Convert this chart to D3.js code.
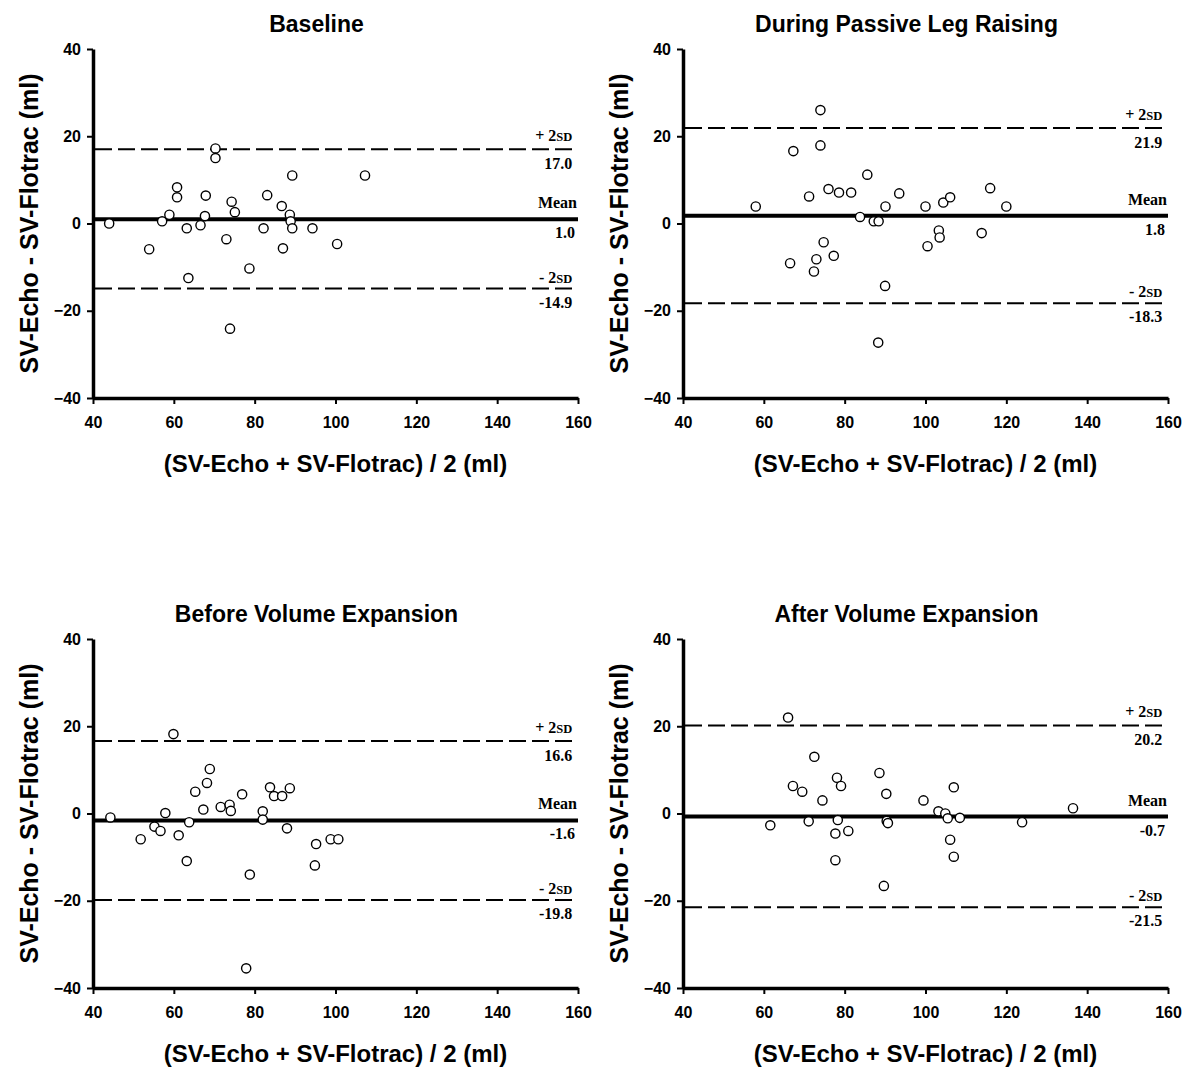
<!DOCTYPE html>
<html>
<head>
<meta charset="utf-8">
<script src="https://cdn.jsdelivr.net/npm/d3@7"></script>
<style>
  html, body { margin: 0; padding: 0; background: #fff; }
  svg { display: block; }
</style>
</head>
<body>
<svg id="chart" width="1200" height="1076"></svg>
<script>
// ---------- DATA ----------
const panelTitles = ["Baseline", "During Passive Leg Raising", "Before Volume Expansion", "After Volume Expansion"];
const xTicks = [40, 60, 80, 100, 120, 140, 160];
const yTicks = [-40, -20, 0, 20, 40];
const xTitle = "(SV-Echo + SV-Flotrac) / 2 (ml)";
const yTitle = "SV-Echo - SV-Flotrac (ml)";

const baselineMeanSV = [44.0, 53.9, 57.1, 58.9, 60.8, 60.8, 63.2, 63.6, 66.6, 67.7, 67.9, 70.3, 70.3, 73.0, 74.3, 73.9, 75.1, 78.7, 82.2, 83.1, 86.7, 87.0, 88.7, 88.9, 89.3, 89.3, 94.3, 100.4, 107.3];
const baselineDiff   = [0.0, -5.9, 0.5, 2.0, 8.3, 6.0, -1.1, -12.5, -0.4, 1.7, 6.4, 17.2, 15.0, -3.6, 5.0, -24.1, 2.6, -10.3, -1.1, 6.5, 4.0, -5.7, 2.0, 0.5, -1.1, 11.0, -1.1, -4.7, 11.0];

const plrMeanSV = [58.0, 67.3, 66.5, 71.2, 72.4, 73.0, 74.0, 74.0, 74.8, 76.0, 77.3, 78.6, 81.6, 83.8, 85.6, 87.2, 88.4, 88.3, 90.0, 90.1, 93.5, 100.0, 100.5, 103.3, 103.5, 104.4, 106.1, 113.9, 116.0, 120.0];
const plrDiff   = [3.9, 16.6, -9.1, 6.2, -11.0, -8.2, 26.0, 17.9, -4.3, 7.9, -7.4, 7.1, 7.1, 1.5, 11.2, 0.5, 0.5, -27.3, -14.3, 3.9, 6.9, 3.9, -5.2, -1.6, -3.2, 4.8, 6.0, -2.2, 8.1, 3.9];

const beforeMeanSV = [44.3, 51.8, 55.2, 56.7, 57.9, 59.9, 61.2, 63.2, 63.8, 65.3, 67.3, 68.2, 68.9, 71.6, 73.8, 74.1, 76.9, 78.8, 77.9, 82.0, 82.0, 83.8, 84.8, 86.8, 88.7, 88.0, 95.2, 94.9, 98.8, 100.7];
const beforeDiff   = [-0.9, -5.9, -3.0, -4.0, 0.1, 18.2, -5.0, -10.9, -2.0, 5.0, 0.9, 7.0, 10.2, 1.5, 2.0, 0.6, 4.4, -14.0, -35.5, 0.5, -1.4, 6.0, 4.0, 4.0, 5.8, -3.4, -7.0, -11.9, -5.9, -5.9];

const afterMeanSV = [61.6, 66.0, 67.2, 69.5, 71.1, 72.5, 74.5, 77.7, 77.7, 78.1, 78.3, 79.1, 80.9, 88.6, 89.7, 90.3, 90.4, 90.7, 99.5, 103.2, 104.9, 105.5, 106.1, 107.0, 107.0, 108.5, 123.9, 136.5];
const afterDiff   = [-2.7, 22.0, 6.3, 5.0, -1.8, 13.0, 3.0, -10.7, -4.6, 8.2, -1.5, 6.3, -4.0, 9.3, -16.6, 4.5, -1.7, -2.2, 3.0, 0.5, 0.0, -1.1, -6.0, 6.0, -9.9, -1.0, -2.0, 1.2];

const meanBias   = [1.0, 1.8, -1.6, -0.7];
const upperLimit = [17.0, 21.9, 16.6, 20.2];
const lowerLimit = [-14.9, -18.3, -19.8, -21.5];

const panelX = [baselineMeanSV, plrMeanSV, beforeMeanSV, afterMeanSV];
const panelY = [baselineDiff, plrDiff, beforeDiff, afterDiff];

// ---------- DRAW ----------
const svg = d3.select("#chart");
const sans = "'Liberation Sans', Arial, sans-serif";
const serif = "'Liberation Serif', 'Times New Roman', serif";
const W = 485, H = 349;

panelTitles.forEach((title, i) => {
  const col = i % 2, row = Math.floor(i / 2);
  const ox = 93 + col * 590, oy = 49 + row * 590;
  const g = svg.append("g").attr("transform", `translate(${ox},${oy})`);
  const x = d3.scaleLinear().domain([40, 160]).range([0, W]);
  const y = d3.scaleLinear().domain([-40, 40]).range([H, 0]);

  // title
  g.append("text").attr("x", W / 2 - 19).attr("y", -17)
    .attr("text-anchor", "middle").attr("font-family", sans).attr("font-weight", "bold")
    .attr("font-size", 23).text(title);

  // y axis
  const ya = g.append("g").call(d3.axisLeft(y).tickValues(yTicks).tickSize(6).tickSizeOuter(0).tickPadding(6));
  ya.select(".domain").attr("stroke-width", 3.5).attr("stroke", "#000");
  ya.selectAll(".tick line").attr("stroke-width", 2);
  ya.selectAll(".tick text").attr("font-family", sans).attr("font-weight", "bold").attr("font-size", 16).attr("fill", "#000");

  // x axis
  const xa = g.append("g").attr("transform", `translate(0,${H})`)
    .call(d3.axisBottom(x).tickValues(xTicks).tickSize(6).tickSizeOuter(0).tickPadding(13));
  xa.select(".domain").attr("stroke-width", 3.5).attr("stroke", "#000");
  xa.selectAll(".tick line").attr("stroke-width", 2);
  xa.selectAll(".tick text").attr("font-family", sans).attr("font-weight", "bold").attr("font-size", 16).attr("fill", "#000");

  // axis titles
  g.append("text").attr("x", W / 2).attr("y", H + 74)
    .attr("text-anchor", "middle").attr("font-family", sans).attr("font-weight", "bold")
    .attr("font-size", 24).text(xTitle);
  g.append("text").attr("transform", `translate(-55,${H / 2}) rotate(-90)`)
    .attr("text-anchor", "middle").attr("font-family", sans).attr("font-weight", "bold")
    .attr("font-size", 25).text(yTitle);

  // limit lines
  const xEndDash = x(158.6);
  [upperLimit[i], lowerLimit[i]].forEach(v => {
    g.append("line").attr("x1", x(40) + 2).attr("x2", xEndDash)
      .attr("y1", y(v)).attr("y2", y(v))
      .attr("stroke", "#000").attr("stroke-width", 2).attr("stroke-dasharray", "17,6");
  });
  g.append("line").attr("x1", x(40)).attr("x2", x(160))
    .attr("y1", y(meanBias[i])).attr("y2", y(meanBias[i]))
    .attr("stroke", "#000").attr("stroke-width", 4);

  // annotations
  const ann = (xx, yy, parts) => {
    const t = g.append("text").attr("x", xx).attr("y", yy).attr("text-anchor", "end")
      .attr("font-family", serif).attr("font-weight", "bold").attr("font-size", 16);
    parts.forEach(p => t.append("tspan").attr("font-size", p[1]).text(p[0]));
  };
  ann(xEndDash, y(upperLimit[i]) - 8, [["+ 2", 16], ["SD", 12.5]]);
  ann(xEndDash, y(upperLimit[i]) + 20, [[upperLimit[i].toFixed(1), 16]]);
  ann(xEndDash, y(lowerLimit[i]) - 6, [["- 2", 16], ["SD", 12.5]]);
  ann(xEndDash, y(lowerLimit[i]) + 19, [[lowerLimit[i].toFixed(1), 16]]);
  ann(x(160) - 1, y(meanBias[i]) - 11, [["Mean", 16]]);
  ann(x(160) - 3, y(meanBias[i]) + 19, [[meanBias[i].toFixed(1), 16]]);

  // points
  g.append("g").selectAll("circle")
    .data(panelX[i].map((v, k) => [v, panelY[i][k]]))
    .join("circle")
    .attr("cx", d => x(d[0])).attr("cy", d => y(d[1])).attr("r", 4.6)
    .attr("fill", "#fff").attr("stroke", "#000").attr("stroke-width", 1.4);
});
</script>
</body>
</html>
